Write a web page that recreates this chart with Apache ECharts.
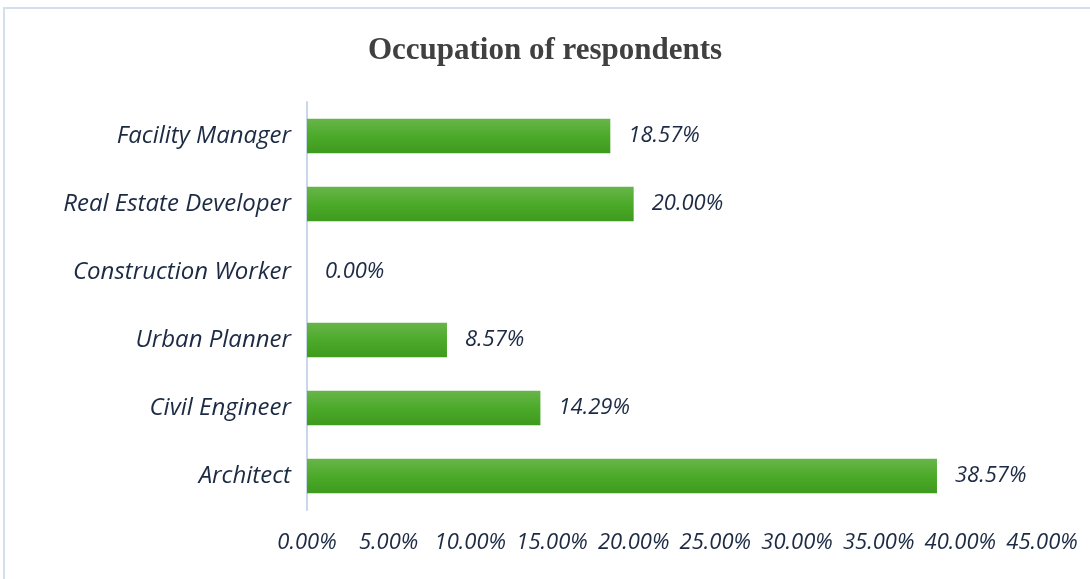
<!DOCTYPE html>
<html>
<head>
<meta charset="utf-8">
<script src="https://cdn.jsdelivr.net/npm/echarts@6/dist/echarts.min.js"></script>
<style>
  html, body { margin: 0; padding: 0; background: #fff; }
  #chart { width: 1090px; height: 579px; }
</style>
</head>
<body>
<div id="chart"></div>
<script>
// bottom to top, as the category axis draws them
var categories = ['Architect', 'Civil Engineer', 'Urban Planner', 'Construction Worker', 'Real Estate Developer', 'Facility Manager'];
var shares = [38.57, 14.29, 8.57, 0.00, 20.00, 18.57];

var labelFont = '"Open Sans", Lato, sans-serif';
var ink = '#1c2a44';

var chart = echarts.init(document.getElementById('chart'));
chart.setOption({
  backgroundColor: '#fff',
  title: {
    text: 'Occupation of respondents',
    left: 'center',
    top: 30,
    textStyle: {
      fontFamily: '"Liberation Serif", serif',
      fontWeight: 'bold',
      fontSize: 31,
      color: '#404040'
    }
  },
  graphic: [{
    type: 'rect',
    shape: { x: 4, y: 8, width: 1100, height: 600 },
    style: { fill: 'none', stroke: '#d3e0ec', lineWidth: 2 },
    silent: true
  }],
  grid: { left: 307, right: 48, top: 102, bottom: 69 },
  xAxis: {
    type: 'value',
    min: 0,
    max: 45,
    interval: 5,
    axisLine: { show: false },
    axisTick: { show: false },
    splitLine: { show: false },
    axisLabel: {
      margin: 22,
      fontFamily: labelFont,
      fontStyle: 'italic',
      fontSize: 22,
      color: ink,
      formatter: function (v) { return v.toFixed(2) + '%'; }
    }
  },
  yAxis: {
    type: 'category',
    data: categories,
    axisLine: { show: true, lineStyle: { color: '#c8d8ea', width: 2 } },
    axisTick: { show: false },
    axisLabel: {
      margin: 16,
      fontFamily: labelFont,
      fontStyle: 'italic',
      fontSize: 24,
      color: ink
    }
  },
  series: [{
    type: 'bar',
    data: shares,
    barWidth: '51%',
    itemStyle: {
      color: new echarts.graphic.LinearGradient(0, 0, 0, 1, [
        { offset: 0, color: '#68b54a' },
        { offset: 0.5, color: '#4caa2a' },
        { offset: 1, color: '#3e9a1d' }
      ])
    },
    label: {
      show: true,
      position: 'right',
      distance: 18,
      fontFamily: labelFont,
      fontStyle: 'italic',
      fontSize: 22,
      color: ink,
      formatter: function (p) { return p.value.toFixed(2) + '%'; }
    }
  }]
});
</script>
</body>
</html>
